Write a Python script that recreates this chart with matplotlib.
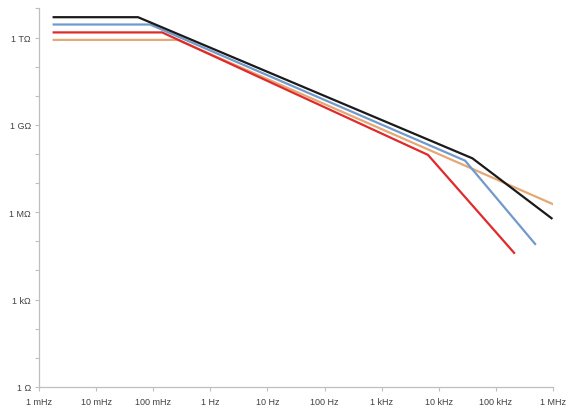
"""Impedance vs. frequency, log-log."""
import numpy as np
import matplotlib
matplotlib.use("Agg")
import matplotlib.pyplot as plt

# corner points of each impedance curve (Hz, ohm)
black_f = [0.0018, 0.054, 3.9e4, 9.5e5]
black_r = [5.0e12, 5.0e12, 7.1e7, 6.2e5]

blue_f = [0.0018, 0.088, 2.9e4, 4.9e5]
blue_r = [2.8e12, 2.8e12, 5.9e7, 8.1e4]

red_f = [0.0018, 0.143, 6.5e3, 2.1e5]
red_r = [1.5e12, 1.5e12, 9.3e7, 4.0e4]

tan_f = [0.0018, 0.27, 1.0e6]
tan_r = [8.3e11, 8.3e11, 1.9e6]

freq_ticks = [1e-3, 1e-2, 1e-1, 1e0, 1e1, 1e2, 1e3, 1e4, 1e5, 1e6]
freq_labels = ['1 mHz', '10 mHz', '100 mHz', '1 Hz', '10 Hz', '100 Hz',
               '1 kHz', '10 kHz', '100 kHz', '1 MHz']
ohm_ticks = [10.0 ** k for k in range(0, 14)]
ohm_labels = {0: '1 Ω', 3: '1 kΩ', 6: '1 MΩ', 9: '1 GΩ', 12: '1 TΩ'}

plt.rcParams['font.family'] = ['Liberation Sans', 'DejaVu Sans']

fig = plt.figure(figsize=(5.67, 4.10), dpi=100)
ax = fig.add_axes([0.069, 0.054, 0.906, 0.923])

ax.plot(tan_f, tan_r, color='#e5a874', lw=1.6, zorder=1)
ax.plot(red_f, red_r, color='#e02a2a', lw=1.6, zorder=2)
ax.plot(blue_f, blue_r, color='#7099cc', lw=1.6, zorder=3)
ax.plot(black_f, black_r, color='#1a1a1a', lw=1.6, zorder=4)

ax.set_xscale('log')
ax.set_yscale('log')
ax.set_xlim(1e-3, 1e6)
ax.set_ylim(1, 1e13)

ax.set_xticks(freq_ticks)
ax.set_xticklabels(freq_labels)
ax.xaxis.set_minor_locator(plt.NullLocator())
ax.set_yticks(ohm_ticks)
ax.set_yticklabels([ohm_labels.get(k, '') for k in range(len(ohm_ticks))])
ax.yaxis.set_minor_locator(plt.NullLocator())

for side in ('top', 'right'):
    ax.spines[side].set_visible(False)
for side in ('left', 'bottom'):
    ax.spines[side].set_color('#bfbfbf')
    ax.spines[side].set_linewidth(0.9)

ax.tick_params(axis='both', which='major', length=3, width=0.8,
               color='#bfbfbf', labelsize=6.5, labelcolor='#404040')
ax.tick_params(axis='x', pad=4)
ax.tick_params(axis='y', pad=3)

fig.savefig('out.png', dpi=100)
